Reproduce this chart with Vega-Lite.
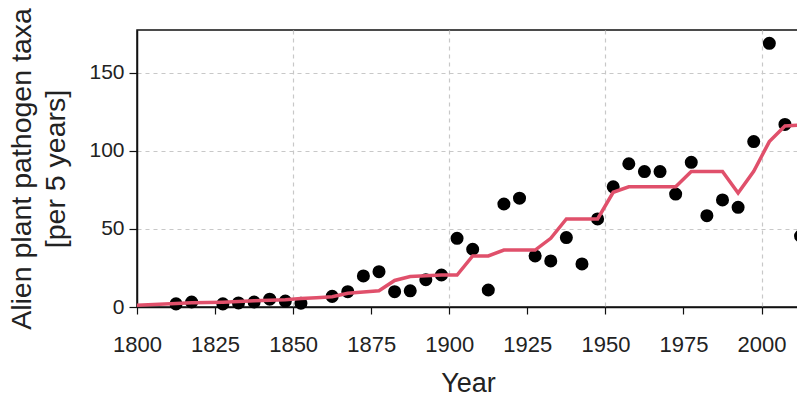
{
  "$schema": "https://vega.github.io/schema/vega-lite/v6.json",
  "width": 662,
  "height": 277,
  "autosize": {"type": "none"},
  "padding": {"left": 137, "top": 30, "right": 0, "bottom": 92},
  "background": "white",
  "config": {
    "view": {"stroke": "#111", "strokeWidth": 1.5},
    "font": "Liberation Sans",
    "axis": {
      "labelFont": "Liberation Sans",
      "titleFont": "Liberation Sans",
      "labelFontSize": 21,
      "labelColor": "#222",
      "titleColor": "#222",
      "titleFontSize": 27,
      "titleFontWeight": "normal",
      "domainColor": "#111",
      "domainWidth": 1.5,
      "tickColor": "#111",
      "tickWidth": 1.2,
      "tickSize": 7,
      "gridColor": "#c8c8c8",
      "gridDash": [4, 4],
      "gridWidth": 1.2
    }
  },
  "datasets": {
    "points": [
      {"year": 1812.5, "taxa": 2},
      {"year": 1817.5, "taxa": 3.2},
      {"year": 1827.5, "taxa": 2},
      {"year": 1832.5, "taxa": 2.6},
      {"year": 1837.5, "taxa": 3.2},
      {"year": 1842.5, "taxa": 5},
      {"year": 1847.5, "taxa": 3.8},
      {"year": 1852.5, "taxa": 2.4},
      {"year": 1862.5, "taxa": 6.8},
      {"year": 1867.5, "taxa": 9.8},
      {"year": 1872.5, "taxa": 19.9},
      {"year": 1877.5, "taxa": 22.6},
      {"year": 1882.5, "taxa": 9.8},
      {"year": 1887.5, "taxa": 10.4},
      {"year": 1892.5, "taxa": 17.5},
      {"year": 1897.5, "taxa": 20.5},
      {"year": 1902.5, "taxa": 44},
      {"year": 1907.5, "taxa": 37},
      {"year": 1912.5, "taxa": 10.9},
      {"year": 1917.5, "taxa": 66},
      {"year": 1922.5, "taxa": 69.7},
      {"year": 1927.5, "taxa": 32.7},
      {"year": 1932.5, "taxa": 29.5},
      {"year": 1937.5, "taxa": 44.5},
      {"year": 1942.5, "taxa": 27.6},
      {"year": 1947.5, "taxa": 56.4},
      {"year": 1952.5, "taxa": 77},
      {"year": 1957.5, "taxa": 91.8},
      {"year": 1962.5, "taxa": 86.8},
      {"year": 1967.5, "taxa": 86.8},
      {"year": 1972.5, "taxa": 72.4},
      {"year": 1977.5, "taxa": 92.7},
      {"year": 1982.5, "taxa": 58.5},
      {"year": 1987.5, "taxa": 68.6},
      {"year": 1992.5, "taxa": 63.9},
      {"year": 1997.5, "taxa": 106},
      {"year": 2002.5, "taxa": 169},
      {"year": 2007.5, "taxa": 117},
      {"year": 2012.5, "taxa": 45.5}
    ],
    "trend": [
      {"year": 1800, "taxa": 1.2},
      {"year": 1812.5, "taxa": 2.3},
      {"year": 1817.5, "taxa": 2.7},
      {"year": 1822.5, "taxa": 2.9},
      {"year": 1827.5, "taxa": 3.1},
      {"year": 1832.5, "taxa": 3.5},
      {"year": 1837.5, "taxa": 4},
      {"year": 1842.5, "taxa": 4.4},
      {"year": 1847.5, "taxa": 4.6},
      {"year": 1852.5, "taxa": 5.5},
      {"year": 1857.5, "taxa": 6},
      {"year": 1862.5, "taxa": 6.6},
      {"year": 1867.5, "taxa": 8.8},
      {"year": 1872.5, "taxa": 9.6},
      {"year": 1877.5, "taxa": 10.4},
      {"year": 1882.5, "taxa": 17},
      {"year": 1887.5, "taxa": 19.5},
      {"year": 1892.5, "taxa": 20},
      {"year": 1897.5, "taxa": 20.5},
      {"year": 1902.5, "taxa": 20.5},
      {"year": 1907.5, "taxa": 32.7},
      {"year": 1912.5, "taxa": 32.7},
      {"year": 1917.5, "taxa": 36.5},
      {"year": 1922.5, "taxa": 36.5},
      {"year": 1927.5, "taxa": 36.5},
      {"year": 1932.5, "taxa": 44},
      {"year": 1937.5, "taxa": 56.4},
      {"year": 1942.5, "taxa": 56.4},
      {"year": 1947.5, "taxa": 56.4},
      {"year": 1952.5, "taxa": 73.5},
      {"year": 1957.5, "taxa": 77},
      {"year": 1962.5, "taxa": 77},
      {"year": 1967.5, "taxa": 77},
      {"year": 1972.5, "taxa": 77},
      {"year": 1977.5, "taxa": 86.8},
      {"year": 1982.5, "taxa": 86.8},
      {"year": 1987.5, "taxa": 86.8},
      {"year": 1992.5, "taxa": 73},
      {"year": 1997.5, "taxa": 87},
      {"year": 2002.5, "taxa": 106},
      {"year": 2007.5, "taxa": 116},
      {"year": 2012.5, "taxa": 116.5}
    ]
  },
  "encoding": {
    "x": {
      "field": "year",
      "type": "quantitative",
      "scale": {"domain": [1800, 2012], "nice": false, "zero": false},
      "axis": {
        "title": "Year",
        "titleFontSize": 27,
        "values": [1800, 1825, 1850, 1875, 1900, 1925, 1950, 1975, 2000],
        "format": "d",
        "labelFontSize": 22,
        "labelPadding": 20,
        "titlePadding": 15,
        "labelFlush": false,
        "gridOpacity": {"condition": {"test": "datum.value % 50 === 0 && datum.value > 1800", "value": 1}, "value": 0}
      }
    },
    "y": {
      "field": "taxa",
      "type": "quantitative",
      "scale": {"domain": [0, 177.5], "nice": false},
      "axis": {
        "title": ["Alien plant pathogen taxa", "[per 5 years]"],
        "titleFontSize": 28.5,
        "titleLineHeight": 34,
        "values": [0, 50, 100, 150],
        "tickSize": 8,
        "labelPadding": 5,
        "titlePadding": 18,
        "gridOpacity": {"condition": {"test": "datum.value > 0", "value": 1}, "value": 0}
      }
    }
  },
  "layer": [
    {
      "data": {"name": "points"},
      "mark": {"type": "circle", "size": 170, "color": "#000", "opacity": 1, "clip": false}
    },
    {
      "data": {"name": "trend"},
      "mark": {"type": "line", "color": "#e0506b", "strokeWidth": 3.5, "clip": false}
    }
  ]
}
